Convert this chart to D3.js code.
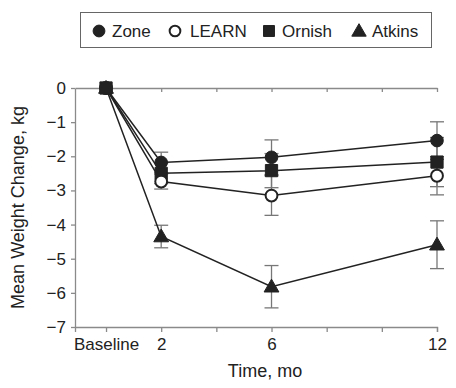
<!DOCTYPE html>
<html>
<head>
<meta charset="utf-8">
<script src="https://cdn.jsdelivr.net/npm/d3@7"></script>
<style>
  body { margin: 0; background: #fff; }
  text { font-family: "Liberation Sans", Arial, Helvetica, sans-serif; fill: #222; }
</style>
</head>
<body>
<div id="chart"></div>
<script>
// months of follow-up
const months = [0, 2, 6, 12];

// mean weight change (kg) and standard errors per diet
const zone = [0, -2.18, -2.03, -1.54];
const zoneSE = [0, 0.30, 0.51, 0.55];
const learn = [0, -2.74, -3.15, -2.57];
const learnSE = [0, 0.22, 0.58, 0.56];
const ornish = [0, -2.50, -2.42, -2.17];
const ornishSE = [0, 0.30, 0.50, 0.72];
const atkins = [0, -4.35, -5.82, -4.59];
const atkinsSE = [0, 0.33, 0.62, 0.70];

const xTickValues = [0, 2, 4, 6, 8, 10, 12];
const xTickLabels = ["Baseline", "2", "", "6", "", "", "12"];
const yTickValues = [0, -1, -2, -3, -4, -5, -6, -7];

const width = 456;
const height = 388;

const svg = d3.select("#chart")
  .append("svg")
  .attr("width", width)
  .attr("height", height);

// scales
const x = d3.scaleLinear().domain([-1.125, 12]).range([75, 437]);
const y = d3.scaleLinear().domain([-7, 0]).range([327, 88]);

const axisColor = "#8a8a8a";

// bottom axis
const xAxis = svg.append("g")
  .attr("transform", `translate(0,${y(-7)})`)
  .call(d3.axisBottom(x)
    .tickValues(xTickValues)
    .tickFormat((d, i) => xTickLabels[i])
    .tickSizeInner(5)
    .tickSizeOuter(5)
    .tickPadding(6));
xAxis.select(".domain").attr("stroke", axisColor).attr("stroke-width", 1.3);
xAxis.selectAll(".tick line").attr("stroke", axisColor).attr("stroke-width", 1.3);
xAxis.selectAll("text").style("font-size", "17px").attr("fill", "#222");

// top line at zero with ticks pointing down
const topAxis = svg.append("g")
  .attr("transform", `translate(0,${y(0)})`)
  .call(d3.axisTop(x)
    .tickValues(xTickValues)
    .tickFormat("")
    .tickSizeInner(-4)
    .tickSizeOuter(0));
topAxis.select(".domain").attr("stroke", axisColor).attr("stroke-width", 1.3);
topAxis.selectAll(".tick line").attr("stroke", axisColor).attr("stroke-width", 1.3);

// left axis
const yAxis = svg.append("g")
  .attr("transform", `translate(${x(-1.125)},0)`)
  .call(d3.axisLeft(y)
    .tickValues(yTickValues)
    .tickFormat(d => d === 0 ? "0" : "\u2212" + Math.abs(d))
    .tickSizeInner(4)
    .tickSizeOuter(0)
    .tickPadding(5));
yAxis.select(".domain").attr("stroke", axisColor).attr("stroke-width", 1.3);
yAxis.selectAll(".tick line").attr("stroke", axisColor).attr("stroke-width", 1.3);
yAxis.selectAll("text").style("font-size", "17px").attr("fill", "#222");

// axis titles
svg.append("text")
  .attr("x", (75 + 437) / 2 + 9)
  .attr("y", 377)
  .attr("text-anchor", "middle")
  .style("font-size", "18px")
  .text("Time, mo");

svg.append("text")
  .attr("transform", `translate(24,${(88 + 327) / 2}) rotate(-90)`)
  .attr("text-anchor", "middle")
  .style("font-size", "18px")
  .text("Mean Weight Change, kg");

const series = [
  { name: "Ornish", values: ornish, se: ornishSE, shape: d3.symbolSquare, size: 150, fill: "#222" },
  { name: "LEARN", values: learn, se: learnSE, shape: d3.symbolCircle, size: 110, fill: "#fff" },
  { name: "Zone", values: zone, se: zoneSE, shape: d3.symbolCircle, size: 125, fill: "#222" },
  { name: "Atkins", values: atkins, se: atkinsSE, shape: d3.symbolTriangle, size: 95, fill: "#222" }
];

// error bars
series.forEach(s => {
  months.forEach((m, i) => {
    if (s.se[i] === 0) return;
    const g = svg.append("g").attr("stroke", "#777").attr("stroke-width", 1.3);
    g.append("line")
      .attr("x1", x(m)).attr("x2", x(m))
      .attr("y1", y(s.values[i] + s.se[i])).attr("y2", y(s.values[i] - s.se[i]));
    [s.values[i] + s.se[i], s.values[i] - s.se[i]].forEach(v => {
      g.append("line")
        .attr("x1", x(m) - 7).attr("x2", x(m) + 7)
        .attr("y1", y(v)).attr("y2", y(v));
    });
  });
});

// lines
const line = d3.line()
  .x((d, i) => x(months[i]))
  .y(d => y(d));

series.forEach(s => {
  svg.append("path")
    .datum(s.values)
    .attr("d", line)
    .attr("fill", "none")
    .attr("stroke", "#222")
    .attr("stroke-width", 1.5);
});

// markers
series.forEach(s => {
  s.values.forEach((v, i) => {
    svg.append("path")
      .attr("d", d3.symbol().type(s.shape).size(s.size)())
      .attr("transform", `translate(${x(months[i])},${y(v) + (s.shape === d3.symbolTriangle ? 1 : 0)})`)
      .attr("fill", s.fill)
      .attr("stroke", "#222")
      .attr("stroke-width", s.fill === "#fff" ? 2 : 1);
  });
});

// legend
const legend = svg.append("g");
legend.append("rect")
  .attr("x", 80.5).attr("y", 12.5)
  .attr("width", 351).attr("height", 35)
  .attr("fill", "#fff")
  .attr("stroke", "#666")
  .attr("stroke-width", 1);

const legendItems = [
  { name: "Zone", shape: d3.symbolCircle, size: 110, fill: "#222", sx: 99, tx: 112 },
  { name: "LEARN", shape: d3.symbolCircle, size: 90, fill: "#fff", sx: 175, tx: 190 },
  { name: "Ornish", shape: d3.symbolSquare, size: 120, fill: "#222", sx: 269, tx: 282 },
  { name: "Atkins", shape: d3.symbolTriangle, size: 90, fill: "#222", sx: 359, tx: 372 }
];

legendItems.forEach(d => {
  legend.append("path")
    .attr("d", d3.symbol().type(d.shape).size(d.size)())
    .attr("transform", `translate(${d.sx},${31 + (d.shape === d3.symbolTriangle ? 1 : 0)})`)
    .attr("fill", d.fill)
    .attr("stroke", "#222")
    .attr("stroke-width", d.fill === "#fff" ? 2 : 1);
  legend.append("text")
    .attr("x", d.tx)
    .attr("y", 37)
    .style("font-size", "17px")
    .text(d.name);
});
</script>
</body>
</html>
